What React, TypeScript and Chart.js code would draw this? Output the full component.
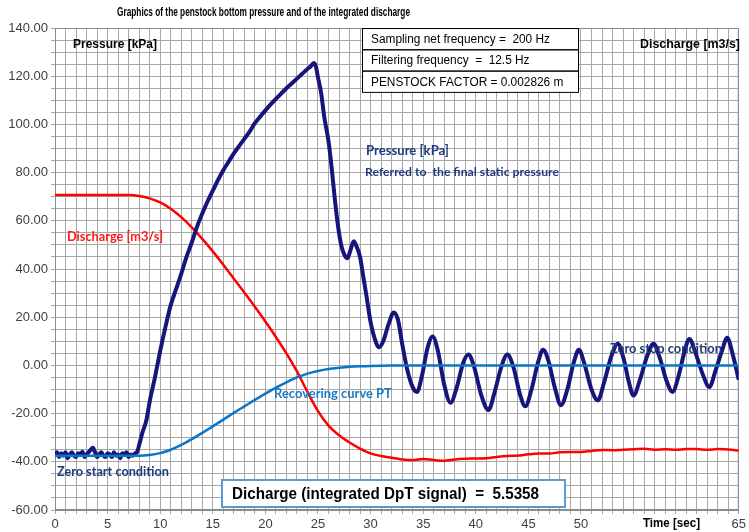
import React, { useEffect, useRef } from "react";
import { Chart, registerables } from "chart.js";

Chart.register(...registerables);

// ---- Data ----
const pressureTime = [
  0, 0.2, 0.4, 0.6, 0.8, 1, 1.2, 1.4, 1.6, 1.8, 2, 2.2, 2.4, 2.6, 2.8, 3, 3.2, 3.4, 3.6, 3.8,
  4, 4.2, 4.4, 4.6, 4.8, 5, 5.2, 5.4, 5.6, 5.8, 6, 6.2, 6.4, 6.6, 6.8, 7, 7.2, 7.4, 7.6,
  7.8, 8.0, 8.3, 8.7, 9.0, 9.5, 10.0, 10.5, 11.0, 11.5, 12.0, 12.5, 13.0, 13.5, 14.0, 14.5,
  15.0, 15.5, 16.0, 16.5, 17.0, 17.5, 18.0, 18.5, 19.0, 19.5, 20.0, 20.5, 21.0, 21.5, 22.0,
  22.5, 23.0, 23.5, 24.0, 24.3, 24.6, 24.8, 25.0, 25.3, 25.6, 26.0, 26.3, 26.6, 26.9, 27.2,
  27.5, 27.8, 28.1, 28.4, 28.7, 29.0, 29.3, 29.6, 30.0, 30.4, 30.8, 31.2, 31.7, 32.2, 32.6,
  33.0, 33.5, 34.0, 34.4, 34.9, 35.4, 35.9, 36.4, 37.0, 37.6, 38.2, 38.8, 39.3, 39.8, 40.5,
  41.2, 41.8, 42.4, 43.0, 43.6, 44.2, 44.7, 45.3, 45.9, 46.4, 46.9, 47.5, 48.1, 48.7, 49.3,
  49.8, 50.3, 51.0, 51.6, 52.2, 52.9, 53.5, 54.1, 54.5, 55.0, 55.6, 56.3, 56.9, 57.5, 58.1,
  58.7, 59.3, 59.8, 60.3, 60.9, 61.6, 62.2, 62.8, 63.4, 63.9, 64.4, 65.0,
];
const pressureKPa = [
  -37, -36, -38, -36.5, -37.5, -36, -38.5, -37, -36, -37.5, -38, -36.5, -37, -35.8, -38, -37, -36, -35, -34.2, -36,
  -38, -37, -36, -37.5, -38, -36.5, -37, -38, -36, -37.5, -37, -38.5, -36.5, -37, -36, -38, -37, -37.5, -36.5,
  -36, -33, -28, -22.5, -15, -5, 6, 16, 25, 31.5, 38, 45, 51, 57.5, 63, 68,
  72.5, 77, 81, 84.5, 88, 91, 94, 97, 100.5, 103.2, 105.8, 108.3, 110.6, 112.8, 115,
  117, 119, 121, 123, 124, 125.5, 124, 119.5, 113, 103, 93, 82, 69, 58, 50,
  46, 44.5, 48, 51.5, 49, 45, 37, 29, 18, 11, 7.5, 10, 17, 22, 19,
  9, -2, -9, -11, -4, 7, 12, 6, -8, -15.5, -9, 1, 4.5, 0, -12,
  -18.5, -11, -1, 4.5, -1, -12, -17, -10, 1, 6.5, 2, -9, -16.5, -10, 1,
  6.5, 1, -10, -14.5, -7, 4, 9, 2, -6, -12.5, -6, 4, 9, 3, -6,
  -11, -4, 5, 11, 5, -4, -9, -2, 6, 11.5, 5, -6,
];

const dischargeTime = [
  0, 7, 8, 9, 10, 11, 12, 13, 14, 15, 16, 17, 18, 19, 20, 21, 22, 23, 24, 25, 26, 27, 28, 29,
  30, 31, 32, 33, 34, 35, 36, 37, 38, 39, 40, 41, 42, 43, 44, 45, 46, 47, 48, 49, 50, 51, 52,
  53, 54, 55, 56, 57, 58, 59, 60, 61, 62, 63, 64, 65,
];
const dischargeM3s = [
  70.7, 70.7, 70.3, 69.3, 67.6, 65, 61.5, 57.3, 52.5, 47.3, 41.8, 36, 30.2, 24.3, 18.2, 11.8, 5, -2.5, -11, -19, -25, -29, -32, -34.5,
  -36.5, -37.6, -38.3, -39, -39.3, -38.8, -39.3, -39.6, -39, -38.7, -38.6, -38.5, -38, -37.6, -37.4, -36.9, -36.6, -36.6, -36, -35.9, -35.9, -35.5, -35.1,
  -35.2, -35, -34.8, -34.6, -35, -34.8, -35, -34.7, -34.7, -35, -34.7, -34.9, -35.3,
];

const recoverTime = [0, 8, 9, 10, 11, 12, 13, 14, 15, 16, 17, 18, 19, 20, 21, 22, 23, 24, 25, 26, 27, 28, 29, 30, 32, 35, 65];
const recoverPT = [
  -37.5, -37.5, -37.2, -36.4, -35, -33, -30.6, -28, -25.3, -22.5, -19.7, -17, -14.3, -11.7, -9.2, -7, -5, -3.4, -2.3, -1.5, -1, -0.6,
  -0.35, -0.2, -0.05, 0, 0,
];

const yLabelStep = 20;
const xLabelStep = 5;
const xLabelsHidden = [55, 60];

const boxLines = [
  "Sampling net frequency =  200 Hz",
  "Filtering frequency  =  12.5 Hz",
  "PENSTOCK FACTOR = 0.002826 m",
];

const ARIAL = '"Liberation Sans", Arial, sans-serif';
const CAL = 'Lato, "Noto Sans", sans-serif';

export default function App() {
  const ref = useRef<HTMLCanvasElement>(null);

  useEffect(() => {
    document.body.style.margin = "0";
    const toPts = (t: number[], v: number[]) => t.map((x, i) => ({ x, y: v[i] }));

    const fitFont = (ctx: CanvasRenderingContext2D, text: string, width: number, weight: string, family: string) => {
      ctx.font = `${weight} 20px ${family}`;
      const w = ctx.measureText(text).width;
      const size = (20 * width) / w;
      return `${weight} ${size.toFixed(2)}px ${family}`;
    };

    const drawFit = (
      ctx: CanvasRenderingContext2D,
      text: string,
      x: number,
      y: number,
      width: number,
      weight: string,
      family: string,
      color: string
    ) => {
      ctx.font = fitFont(ctx, text, width, weight, family);
      ctx.fillStyle = color;
      ctx.textAlign = "left";
      ctx.textBaseline = "middle";
      ctx.fillText(text, x, y);
    };

    // fixed size, squeezed horizontally to the given width (narrow font look)
    const drawSqueeze = (
      ctx: CanvasRenderingContext2D,
      text: string,
      x: number,
      y: number,
      width: number,
      size: number,
      weight: string,
      family: string,
      color: string
    ) => {
      ctx.save();
      ctx.font = `${weight} ${size}px ${family}`;
      const w = ctx.measureText(text).width;
      ctx.translate(x, y);
      ctx.scale(width / w, 1);
      ctx.fillStyle = color;
      ctx.textAlign = "left";
      ctx.textBaseline = "middle";
      ctx.fillText(text, 0, 0);
      ctx.restore();
    };

    const annot = {
      id: "annot",
      beforeDatasetsDraw(chart: any) {
        const ctx: CanvasRenderingContext2D = chart.ctx;
        const a = chart.chartArea;
        ctx.save();
        ctx.strokeStyle = "#8c8c8c";
        ctx.lineWidth = 1;
        ctx.strokeRect(a.left + 0.5, a.top + 0.5, a.right - a.left - 1, a.bottom - a.top - 1);
        ctx.restore();
      },
      afterDatasetsDraw(chart: any) {
        const ctx: CanvasRenderingContext2D = chart.ctx;
        ctx.save();
        // title and axis captions
        drawSqueeze(ctx, "Graphics of the penstock bottom pressure and of the integrated discharge", 117, 13, 293, 12.5, "bold", ARIAL, "#000");
        drawSqueeze(ctx, "Pressure [kPa]", 73, 44, 84, 13, "bold", ARIAL, "#000");
        drawSqueeze(ctx, "Discharge [m3/s]", 640, 44, 100, 13, "bold", ARIAL, "#000");
        drawSqueeze(ctx, "Time [sec]", 643, 524, 57, 12, "bold", ARIAL, "#000");

        // info box
        const bx = 362, by = 28, bw = 216, rh = 21.3;
        ctx.fillStyle = "#fff";
        ctx.fillRect(bx, by, bw, rh * 3);
        ctx.strokeStyle = "#000";
        ctx.lineWidth = 1;
        for (let i = 0; i < 3; i++) ctx.strokeRect(bx + 0.5, by + 0.5 + i * rh, bw, rh);
        const f = fitFont(ctx, boxLines[0], 179, "normal", ARIAL);
        ctx.font = f;
        ctx.fillStyle = "#000";
        ctx.textBaseline = "middle";
        ctx.textAlign = "left";
        boxLines.forEach((s, i) => ctx.fillText(s, 371, by + rh * i + rh / 2 + 1));

        // curve labels
        drawFit(ctx, "Pressure [kPa]", 366, 151, 83, "bold", CAL, "#1f3a7e");
        drawFit(ctx, "Referred to  the final static pressure", 365, 172, 194, "bold", CAL, "#1f3a7e");
        drawFit(ctx, "Discharge [m3/s]", 67, 237, 96, "bold", CAL, "#ff1a1a");
        drawFit(ctx, "Recovering curve PT", 274, 394, 118, "bold", CAL, "#1a7cc6");
        drawFit(ctx, "Zero start condition", 57, 472, 112, "bold", CAL, "#1f3a7e");
        drawFit(ctx, "Zero stop condition", 610, 349, 112, "bold", CAL, "#1f3a7e");

        // result box
        ctx.fillStyle = "#fff";
        ctx.fillRect(222, 480, 343, 27);
        ctx.strokeStyle = "#5b9bd5";
        ctx.lineWidth = 2;
        ctx.strokeRect(222, 480, 343, 27);
        drawSqueeze(ctx, "Dicharge (integrated DpT signal)  =  5.5358", 232, 494, 307, 17, "bold", ARIAL, "#000");
        ctx.restore();
      },
    };

    const tickFont = { family: ARIAL, size: 13 };
    const chart = new Chart(ref.current as HTMLCanvasElement, {
      type: "line",
      data: {
        datasets: [
          {
            label: "Recovering curve PT",
            data: toPts(recoverTime, recoverPT),
            borderColor: "#0b76c6",
            borderWidth: 2.5,
            pointRadius: 0,
            cubicInterpolationMode: "monotone",
          },
          {
            label: "Pressure [kPa]",
            data: toPts(pressureTime, pressureKPa),
            borderColor: "#15157c",
            borderWidth: 4,
            pointRadius: 0,
            cubicInterpolationMode: "monotone",
            borderJoinStyle: "round",
          },
          {
            label: "Discharge [m3/s]",
            data: toPts(dischargeTime, dischargeM3s),
            borderColor: "#ff0000",
            borderWidth: 2.5,
            pointRadius: 0,
            cubicInterpolationMode: "monotone",
          },
        ],
      },
      options: {
        responsive: false,
        animation: false,
        layout: { padding: { top: 28, right: 8, left: 0, bottom: 0 } },
        plugins: { legend: { display: false }, tooltip: { enabled: false }, title: { display: false } },
        scales: {
          x: {
            type: "linear",
            min: 0,
            max: 65,
            ticks: {
              stepSize: 1,
              autoSkip: false,
              maxRotation: 0,
              color: "#404040",
              font: tickFont,
              padding: 3,
              callback: (v: any) => (v % xLabelStep === 0 && !xLabelsHidden.includes(v) ? String(v) : ""),
            },
            grid: { color: "#a8a8a8", tickLength: 4 },
            border: { color: "#8c8c8c" },
            afterFit: (s: any) => {
              s.height = 22;
            },
          },
          y: {
            min: -60,
            max: 140,
            ticks: {
              stepSize: 5,
              autoSkip: false,
              color: "#404040",
              font: tickFont,
              padding: 3,
              callback: (v: any) => (v % yLabelStep === 0 ? Number(v).toFixed(2) : ""),
            },
            grid: { color: "#a8a8a8", tickLength: 4 },
            border: { color: "#8c8c8c" },
            afterFit: (s: any) => {
              s.width = 55;
            },
          },
        },
      },
      plugins: [annot],
    } as any);
    return () => chart.destroy();
  }, []);

  return <canvas ref={ref} width={749} height={532} style={{ display: "block", width: 749, height: 532 }} />;
}
